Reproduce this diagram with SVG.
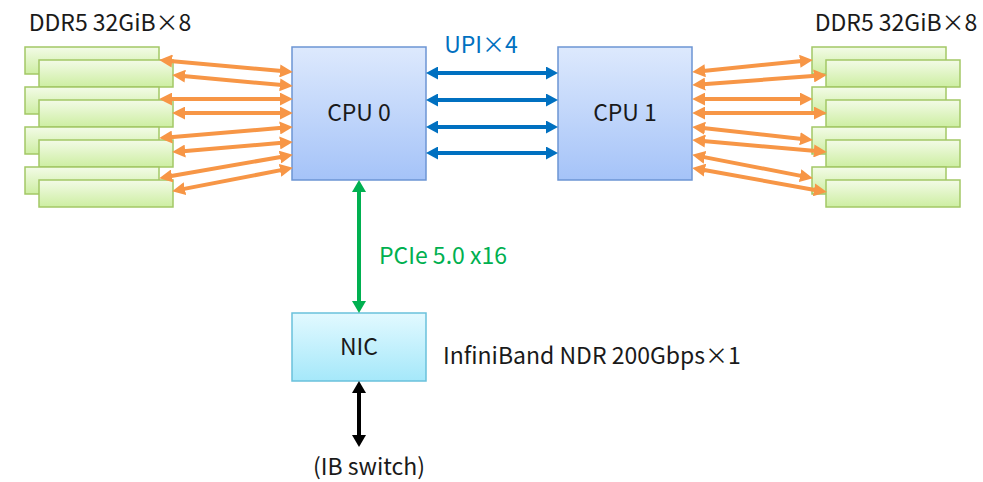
<svg xmlns="http://www.w3.org/2000/svg" width="983" height="482" viewBox="0 0 983 482">
<defs>
<linearGradient id="gDimm" x1="0" y1="0" x2="0" y2="1"><stop offset="0" stop-color="#F3FBE7"/><stop offset="1" stop-color="#CDEEA2"/></linearGradient>
<linearGradient id="gCpu" x1="0" y1="0" x2="0" y2="1"><stop offset="0" stop-color="#DDE9FD"/><stop offset="1" stop-color="#A5C3F8"/></linearGradient>
<linearGradient id="gNic" x1="0" y1="0" x2="0" y2="1"><stop offset="0" stop-color="#E2F9FF"/><stop offset="1" stop-color="#A5E8FA"/></linearGradient>
<marker id="mO" markerUnits="userSpaceOnUse" markerWidth="13" markerHeight="13" viewBox="0 0 12 12" refX="2" refY="6" orient="auto-start-reverse"><path d="M0,0 L12,6 L0,12 z" fill="#F79646"/></marker>
<marker id="mB" markerUnits="userSpaceOnUse" markerWidth="13" markerHeight="13" viewBox="0 0 12 13" refX="2" refY="6.5" orient="auto-start-reverse"><path d="M0,0 L12,6.5 L0,13 z" fill="#0070C0"/></marker>
<marker id="mG" markerUnits="userSpaceOnUse" markerWidth="14" markerHeight="14" viewBox="0 0 12 14" refX="2" refY="7" orient="auto-start-reverse"><path d="M0,0 L12,7 L0,14 z" fill="#00B050"/></marker>
<marker id="mK" markerUnits="userSpaceOnUse" markerWidth="14" markerHeight="14" viewBox="0 0 12 14" refX="2" refY="7" orient="auto-start-reverse"><path d="M0,0 L12,7 L0,14 z" fill="#000000"/></marker>
</defs>
<style>
text{font-family:"Noto Sans CJK JP","Noto Sans",sans-serif;font-size:23px;fill:#1a1a1a}
.dimm{fill:url(#gDimm);stroke:#A3C866;stroke-width:1.5}
.cpu{fill:url(#gCpu);stroke:#6C95D4;stroke-width:1.5}
.nic{fill:url(#gNic);stroke:#6AC1DB;stroke-width:1.5}
.o{stroke:#F79646;stroke-width:4;fill:none;marker-start:url(#mO);marker-end:url(#mO)}
.b{stroke:#0070C0;stroke-width:4;fill:none;marker-start:url(#mB);marker-end:url(#mB)}
.g{stroke:#00B050;stroke-width:4;fill:none;marker-start:url(#mG);marker-end:url(#mG)}
.k{stroke:#000;stroke-width:4;fill:none;marker-start:url(#mK);marker-end:url(#mK)}
.c{text-anchor:middle}
</style>
<rect width="983" height="482" fill="#fff"/>
<g id="dimms-left">
<rect class="dimm" x="25" y="47" width="134" height="27"/><rect class="dimm" x="39" y="60" width="134" height="27"/>
<rect class="dimm" x="25" y="87" width="134" height="27"/><rect class="dimm" x="39" y="100" width="134" height="27"/>
<rect class="dimm" x="25" y="127" width="134" height="27"/><rect class="dimm" x="39" y="140" width="134" height="27"/>
<rect class="dimm" x="25" y="167" width="134" height="27"/><rect class="dimm" x="39" y="180" width="134" height="27"/>
<text x="110" y="31" class="c">DDR5 32GiB×8</text>
</g>
<g id="dimms-right">
<rect class="dimm" x="812" y="47" width="134" height="27"/><rect class="dimm" x="826" y="60" width="134" height="27"/>
<rect class="dimm" x="812" y="87" width="134" height="27"/><rect class="dimm" x="826" y="100" width="134" height="27"/>
<rect class="dimm" x="812" y="127" width="134" height="27"/><rect class="dimm" x="826" y="140" width="134" height="27"/>
<rect class="dimm" x="812" y="167" width="134" height="27"/><rect class="dimm" x="826" y="180" width="134" height="27"/>
<text x="896" y="31" class="c">DDR5 32GiB×8</text>
</g>
<g id="cpu0"><rect class="cpu" x="292" y="47" width="134" height="133"/><text x="359" y="121" class="c">CPU 0</text></g>
<g id="cpu1"><rect class="cpu" x="558" y="47" width="134" height="133"/><text x="625" y="121" class="c">CPU 1</text></g>
<g id="nic"><rect class="nic" x="292" y="313" width="134" height="68"/><text x="359" y="355" class="c">NIC</text></g>
<g id="ib-switch"><text x="369" y="475" class="c">(IB switch)</text></g>
<g id="connectors">
<path class="o" d="M170,60.9 L282,71.1"/>
<path class="o" d="M183,75.9 L282,85.1"/>
<path class="o" d="M170,99 L282,99"/>
<path class="o" d="M183,113 L282,113"/>
<path class="o" d="M170,137.2 L282,127.8"/>
<path class="o" d="M183,151.2 L282,142.8"/>
<path class="o" d="M169.9,176.3 L282.1,156.7"/>
<path class="o" d="M182.8,189.1 L282.2,169.9"/>
<path class="o" d="M703,71 L802,61"/>
<path class="o" d="M703,84.25 L816,75.75"/>
<path class="o" d="M703,99 L802,99"/>
<path class="o" d="M703,113 L816,113"/>
<path class="o" d="M702.9,128.1 L802.1,138.9"/>
<path class="o" d="M703,140.9 L816,151.1"/>
<path class="o" d="M702.8,156.9 L802.2,176.1"/>
<path class="o" d="M702.8,169.8 L816.2,190.2"/>
<path class="b" d="M436,73 L548,73"/>
<path class="b" d="M436,100 L548,100"/>
<path class="b" d="M436,127 L548,127"/>
<path class="b" d="M436,153 L548,153"/>
<path class="g" d="M359,190 L359,303"/>
<path class="k" d="M359,391 L359,437"/>
<text x="481" y="53" class="c" style="fill:#0070C0">UPI×4</text>
<text x="379" y="264" style="fill:#00B050">PCIe 5.0 x16</text>
<text x="443" y="364">InfiniBand NDR 200Gbps×1</text>
</g>
</svg>
